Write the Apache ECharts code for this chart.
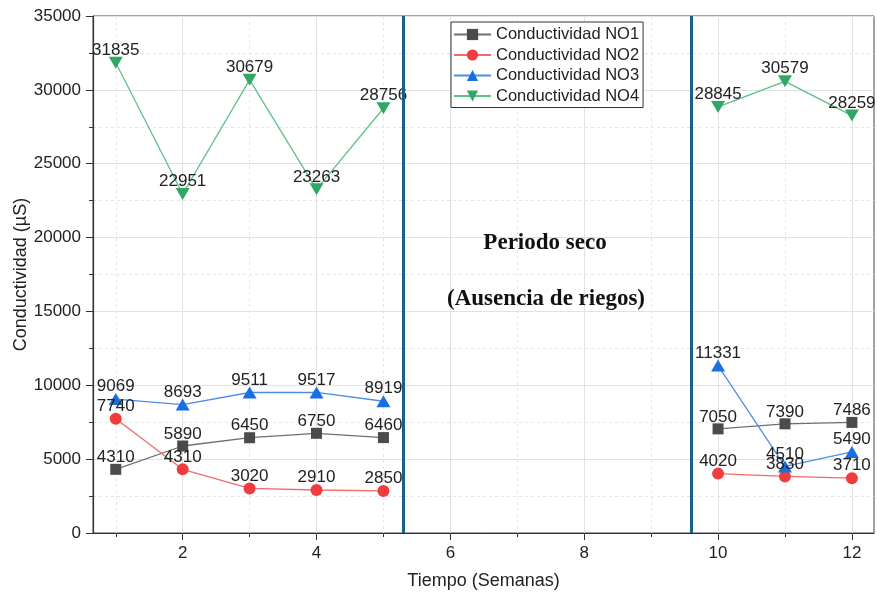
<!DOCTYPE html>
<html>
<head>
<meta charset="utf-8">
<script src="https://cdn.jsdelivr.net/npm/echarts@6/dist/echarts.min.js"></script>
<style>html,body{margin:0;padding:0;background:#fff}#c{width:877px;height:596px}</style>
</head>
<body>
<div id="c"></div>
<script>
const weeks = [1, 2, 3, 4, 5, 10, 11, 12];
const no1 = [4310, 5890, 6450, 6750, 6460, 7050, 7390, 7486];
const no2 = [7740, 4310, 3020, 2910, 2850, 4020, 3830, 3710];
const no3 = [9069, 8693, 9511, 9517, 8919, 11331, 4510, 5490];
const no4 = [31835, 22951, 30679, 23263, 28756, 28845, 30579, 28259];
const seriesNames = ['Conductividad NO1', 'Conductividad NO2', 'Conductividad NO3', 'Conductividad NO4'];
const dividers = [5.3, 9.6];
const xMajorTicks = [2, 4, 6, 8, 10, 12];
const xMinorTicks = [1, 3, 5, 7, 9, 11];

const FONT = '"Liberation Sans", Arial, sans-serif';
const styles = [
  { symbol: 'rect', size: 11, sym: '#4b4b4b', line: '#6e6e6e' },
  { symbol: 'circle', size: 12, sym: '#f03c3c', line: '#f36a6a' },
  { symbol: 'triangle', size: [14, 12], sym: '#1a6fe0', line: '#4d8de8' },
  { symbol: 'path://M0,0 L10,0 L5,8.6 Z', size: [14, 12], sym: '#2fa865', line: '#5fbf88' }
];
const allValues = [no1, no2, no3, no4];

function segments(vals) {
  const segs = [];
  let cur = [];
  weeks.forEach((w, i) => {
    if (i > 0 && w - weeks[i - 1] > 1) { segs.push(cur); cur = []; }
    cur.push([w, vals[i]]);
  });
  segs.push(cur);
  return segs;
}

const series = [];
allValues.forEach((vals, k) => {
  const st = styles[k];
  segments(vals).forEach((seg) => {
    series.push({
      name: seriesNames[k],
      type: 'line',
      data: seg,
      symbol: st.symbol,
      symbolSize: st.size,
      itemStyle: { color: st.sym },
      lineStyle: { color: st.line, width: 1.3 },
      label: { show: true, position: 'top', distance: -2, color: '#222', fontSize: 17, fontFamily: FONT },
      emphasis: { disabled: true },
      animation: false,
      z: 3
    });
  });
});
series.push({
  type: 'line',
  data: [],
  silent: true,
  markLine: {
    silent: true,
    symbol: 'none',
    label: { show: false },
    lineStyle: { color: '#1b5f86', width: 3, type: 'solid' },
    data: dividers.map(d => ({ xAxis: d }))
  },
  animation: false
});

const chart = echarts.init(document.getElementById('c'));
chart.setOption({
  animation: false,
  backgroundColor: '#fff',
  grid: { left: 93, right: 3, top: 16, bottom: 63, show: true, borderColor: '#444', borderWidth: 1, outerBoundsMode: 'none', containLabel: false },
  legend: {
    orient: 'vertical', left: 451, top: 22,
    data: seriesNames,
    backgroundColor: '#fff', borderColor: '#333', borderWidth: 1,
    padding: [4, 4, 3, 2],
    itemWidth: 37, itemHeight: 14, itemGap: 3.5,
    textStyle: { fontSize: 16.5, fontFamily: FONT, color: '#222' }
  },
  xAxis: [{
    type: 'value', min: 0.66, max: 12.33,
    name: 'Tiempo (Semanas)', nameLocation: 'middle', nameGap: 39, nameMoveOverlap: false,
    nameTextStyle: { fontSize: 18, fontFamily: FONT, color: '#222' },
    axisLine: { show: true, onZero: false, lineStyle: { color: '#333', width: 1.2 } },
    axisTick: { show: true, customValues: xMajorTicks, length: 7, lineStyle: { color: '#333' } },
    axisLabel: { customValues: xMajorTicks, fontSize: 17, fontFamily: FONT, color: '#222', margin: 12 },
    splitLine: { show: true, lineStyle: { color: '#e2e2e2', width: 1 } }
  }, {
    type: 'value', min: 0.66, max: 12.33, position: 'bottom',
    axisLine: { show: false },
    axisTick: { show: true, customValues: xMinorTicks, length: 4, lineStyle: { color: '#333' } },
    axisLabel: { show: false, customValues: xMinorTicks },
    splitLine: { show: true, lineStyle: { color: '#e6e6e6', width: 1, type: [3, 3] } }
  }],
  yAxis: {
    type: 'value', min: 0, max: 35000, interval: 5000,
    name: 'Conductividad (µS)', nameLocation: 'middle', nameGap: 63, nameMoveOverlap: false,
    nameTextStyle: { fontSize: 18, fontFamily: FONT, color: '#222' },
    axisLine: { show: true, lineStyle: { color: '#333', width: 1.2 } },
    axisTick: { show: true, length: 7, lineStyle: { color: '#333' } },
    minorTick: { show: true, splitNumber: 2, length: 4, lineStyle: { color: '#333' } },
    axisLabel: { fontSize: 17, fontFamily: FONT, color: '#222', margin: 12, formatter: v => String(v) },
    splitLine: { show: true, lineStyle: { color: '#e2e2e2', width: 1 } },
    minorSplitLine: { show: true, lineStyle: { color: '#e6e6e6', width: 1, type: [3, 3] } }
  },
  graphic: [
    { type: 'text', x: 545, y: 243, z: 10, style: { text: 'Periodo seco', font: 'bold 23px "Liberation Serif", "Times New Roman", serif', fill: '#111', align: 'center', verticalAlign: 'middle' } },
    { type: 'text', x: 546, y: 299, z: 10, style: { text: '(Ausencia de riegos)', font: 'bold 23px "Liberation Serif", "Times New Roman", serif', fill: '#111', align: 'center', verticalAlign: 'middle' } }
  ],
  series: series
});
</script>
</body>
</html>
